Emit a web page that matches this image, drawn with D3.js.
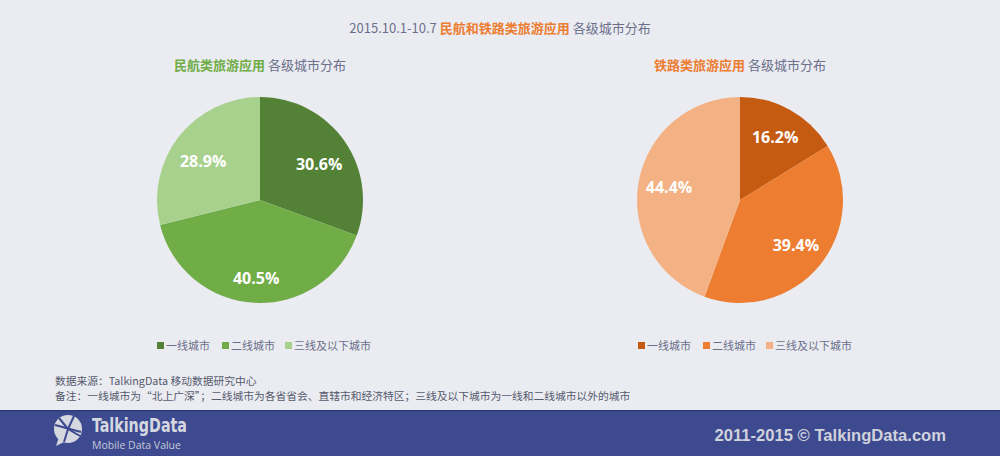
<!DOCTYPE html>
<html>
<head>
<meta charset="utf-8">
<script src="https://cdn.jsdelivr.net/npm/d3@7/dist/d3.min.js"></script>
<style>
  html, body { margin: 0; padding: 0; background: #ebecf1; }
  svg { display: block; }
  text { font-family: "Noto Sans CJK SC", "Open Sans", sans-serif; }
</style>
</head>
<body>
<svg id="chart" width="1000" height="456"></svg>
<script>
// city tiers
var categories = ["一线城市", "二线城市", "三线及以下城市"];
// share of users per tier (%)
var airValues = [30.6, 40.5, 28.9];
var railValues = [16.2, 39.4, 44.4];

var airColors = ["#538135", "#70ad47", "#a9d18e"];
var railColors = ["#c55a11", "#ed7d31", "#f4b183"];

var grey = "#6b6f8c";
var svg = d3.select("#chart");

// main title
var title = svg.append("text")
  .attr("x", 500).attr("y", 33)
  .attr("text-anchor", "middle")
  .style("font-size", "13px");
title.append("tspan").attr("fill", grey).text("2015.10.1-10.7 ");
title.append("tspan").attr("fill", "#ed7d31").style("font-weight", "bold").text("民航和铁路类旅游应用");
title.append("tspan").attr("fill", grey).text(" 各级城市分布");

function drawPie(cx, values, colors, name, nameColor, legendX, labelShift) {
  var r = 103;
  var g = svg.append("g").attr("transform", `translate(${cx}, 200)`);

  var sub = svg.append("text")
    .attr("x", cx).attr("y", 70)
    .attr("text-anchor", "middle")
    .style("font-size", "13px");
  sub.append("tspan").attr("fill", nameColor).style("font-weight", "bold").text(name);
  sub.append("tspan").attr("fill", grey).text(" 各级城市分布");

  var pie = d3.pie().sort(null).value(function(d) { return d; });
  var arc = d3.arc().innerRadius(0).outerRadius(r);
  var labelArc = d3.arc().innerRadius(r * 0.7).outerRadius(r * 0.7);
  var arcs = pie(values);

  g.selectAll("path")
    .data(arcs)
    .enter().append("path")
    .attr("d", arc)
    .attr("fill", function(d, i) { return colors[i]; });

  g.selectAll("text")
    .data(arcs)
    .enter().append("text")
    .attr("transform", function(d) {
      var c = labelArc.centroid(d);
      return `translate(${c[0]}, ${c[1] + labelShift})`;
    })
    .attr("dy", ".35em")
    .attr("text-anchor", "middle")
    .attr("fill", "#fff")
    .style("font-family", "'Open Sans', sans-serif")
    .style("font-weight", "bold")
    .style("font-size", "16px")
    .text(function(d) { return d.data.toFixed(1) + "%"; });

  // legend
  var offsets = [0, 65, 128];
  var lg = svg.append("g").attr("transform", `translate(${legendX}, 346)`);
  categories.forEach(function(c, i) {
    lg.append("rect")
      .attr("x", offsets[i]).attr("y", -4)
      .attr("width", 7).attr("height", 7)
      .attr("fill", colors[i]);
    lg.append("text")
      .attr("x", offsets[i] + 9).attr("y", 0)
      .attr("dy", ".35em")
      .attr("fill", grey)
      .style("font-size", "11px")
      .text(c);
  });
}

drawPie(260, airValues, airColors, "民航类旅游应用", "#70ad47", 157, 6);
drawPie(740, railValues, railColors, "铁路类旅游应用", "#ed7d31", 638, 0);

// notes
svg.append("text")
  .attr("x", 55).attr("y", 385)
  .attr("fill", "#555a6e")
  .style("font-size", "10.75px")
  .text("数据来源：TalkingData 移动数据研究中心");
svg.append("text")
  .attr("x", 55).attr("y", 400)
  .attr("fill", "#555a6e")
  .style("font-size", "10.75px")
  .text("备注：一线城市为“北上广深”；二线城市为各省省会、直辖市和经济特区；三线及以下城市为一线和二线城市以外的城市");

// footer band
var band = "#3d4a90";
svg.append("rect").attr("x", 0).attr("y", 410).attr("width", 1000).attr("height", 46).attr("fill", band);
svg.append("rect").attr("x", 0).attr("y", 410).attr("width", 1000).attr("height", 1.5).attr("fill", "#2f3a7a");

// logo icon
var logo = svg.append("g").attr("transform", "translate(68, 429)");
logo.append("path")
  .attr("d", "M-9,8 L-12,17 L-2,12 Z")
  .attr("fill", "#d6d8e0");
logo.append("circle").attr("r", 14).attr("fill", "#d6d8e0");
[[-13, -4, 13, 3], [0, 0, 6, -13], [0, 0, -9, -11], [0, 0, -4, 13], [0, 0, 12, 7]].forEach(function(l) {
  logo.append("line")
    .attr("x1", l[0]).attr("y1", l[1]).attr("x2", l[2]).attr("y2", l[3])
    .attr("stroke", band).attr("stroke-width", 2);
});

svg.append("text")
  .attr("x", 92).attr("y", 432)
  .attr("fill", "#d6d8e0")
  .attr("textLength", 95)
  .attr("lengthAdjust", "spacingAndGlyphs")
  .style("font-family", "'DejaVu Sans Condensed', 'Liberation Sans Narrow', sans-serif")
  .style("font-weight", "bold")
  .style("font-size", "20px")
  .text("TalkingData");
svg.append("text")
  .attr("x", 92).attr("y", 449)
  .attr("fill", "#c6c9d8")
  .style("font-family", "'Open Sans', sans-serif")
  .style("font-size", "10.5px")
  .text("Mobile Data Value");

svg.append("text")
  .attr("x", 946).attr("y", 441)
  .attr("text-anchor", "end")
  .attr("fill", "#d0d2dc")
  .style("font-family", "'Liberation Sans', Arial, sans-serif")
  .style("font-weight", "bold")
  .style("font-size", "16.6px")
  .text("2011-2015 © TalkingData.com");
</script>
</body>
</html>
